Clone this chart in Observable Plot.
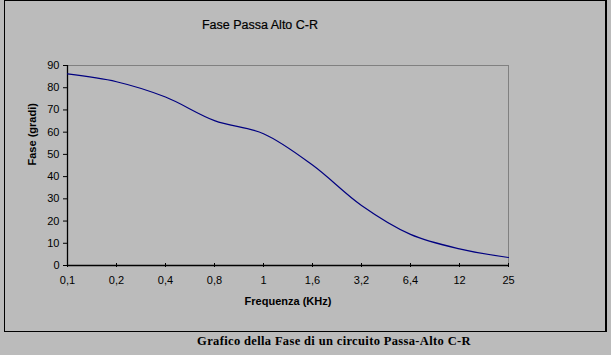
<!DOCTYPE html>
<html>
<head>
<meta charset="utf-8">
<script src="https://cdn.jsdelivr.net/npm/d3@7"></script>
<script src="https://cdn.jsdelivr.net/npm/@observablehq/plot@0.6"></script>
<style>
  html, body { margin: 0; padding: 0; background: #bbbbbb; }
  #wrap { position: relative; width: 611px; height: 355px; overflow: hidden; background: #bbbbbb; }
  #chart { position: absolute; left: 0; top: 0; }
  #border { position: absolute; left: 4px; top: 0px; width: 600px; height: 330px; border: 1px solid #000; border-right-width: 2px; pointer-events: none; }
  #title { position: absolute; left: 160px; width: 200px; top: 18px; text-align: center; font: 12.5px "Liberation Sans", Arial, sans-serif; color: #000; -webkit-text-stroke: 0.2px #000; }
  #caption { position: absolute; left: 134px; width: 400px; top: 334px; text-align: center; font: bold 12.5px "Liberation Serif", "Times New Roman", serif; color: #000; letter-spacing: 0.35px; }
</style>
</head>
<body>
<div id="wrap">
  <div id="chart"></div>
  <div id="border"></div>
  <div id="title">Fase Passa Alto C-R</div>
  <div id="caption">Grafico della Fase di un circuito Passa-Alto C-R</div>
</div>
<script>
const frequencies = ["0,1", "0,2", "0,4", "0,8", "1", "1,6", "3,2", "6,4", "12", "25"];
const phase = [86.2, 82.7, 75.8, 65.2, 59.3, 45.2, 27.0, 14.0, 7.5, 3.6];
const yTicks = [0, 10, 20, 30, 40, 50, 60, 70, 80, 90];
const title = "Fase Passa Alto C-R";
const xLabel = "Frequenza (KHz)";
const yLabel = "Fase (gradi)";

const data = frequencies.map((f, i) => ({f, v: phase[i]}));

const chart = Plot.plot({
  width: 611,
  height: 332,
  marginLeft: 67,
  marginRight: 103,
  marginTop: 65,
  marginBottom: 67,
  style: {background: "transparent", fontFamily: "'Liberation Sans', Arial, sans-serif", fontSize: "11px", color: "#000"},
  x: {type: "point", domain: frequencies, padding: 0},
  y: {domain: [0, 90]},
  marks: [
    Plot.frame({stroke: "#808080"}),
    Plot.axisY({ticks: yTicks, tickSize: 4, tickPadding: 4, label: null, stroke: "#000"}),
    Plot.axisX({tickSize: 4, dy: -2, tickPadding: 9, label: null, stroke: "#000"}),
    Plot.ruleY([0], {stroke: "#000", strokeWidth: 1.3}),
    Plot.ruleX([frequencies[0]], {stroke: "#000", strokeWidth: 1.3}),
    Plot.line(data, {x: "f", y: "v", stroke: "#000080", strokeWidth: 1.2, curve: "catmull-rom"}),
    Plot.text([xLabel], {frameAnchor: "bottom", dy: 39, text: d => d, fontWeight: "bold", fontSize: 11}),
    Plot.text([yLabel], {frameAnchor: "left", dx: -35, rotate: -90, text: d => d, fontWeight: "bold", fontSize: 11})
  ]
});
document.getElementById("chart").appendChild(chart);
</script>
</body>
</html>
